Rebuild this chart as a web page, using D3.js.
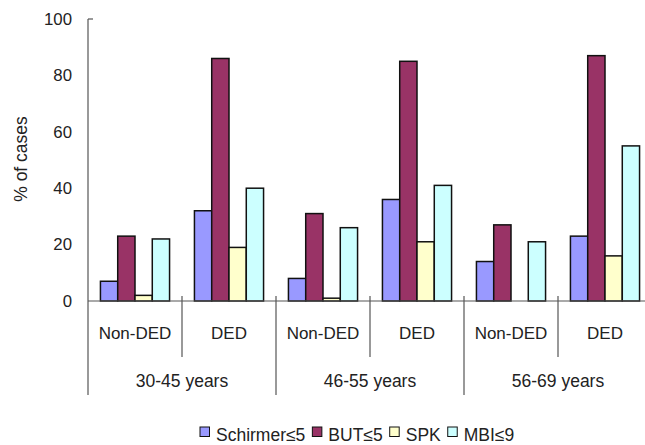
<!DOCTYPE html>
<html>
<head>
<meta charset="utf-8">
<script src="https://cdn.jsdelivr.net/npm/d3@7"></script>
<style>
  html, body { margin: 0; padding: 0; background: #fff; }
  svg { display: block; font-family: "Liberation Sans", Arial, sans-serif; }
</style>
</head>
<body>
<svg id="chart" width="645" height="445"></svg>
<script>
// Age groups, diagnosis subgroups and the four measured signs
const ageGroups = ["30-45 years", "46-55 years", "56-69 years"];
const subgroups = ["Non-DED", "DED"];
const series = ["Schirmer≤5", "BUT≤5", "SPK", "MBI≤9"];
const seriesColors = ["#9999ff", "#993366", "#ffffcc", "#ccffff"];

// % of cases per series, in order: 30-45 Non-DED, 30-45 DED, 46-55 Non-DED, 46-55 DED, 56-69 Non-DED, 56-69 DED
const schirmer = [7, 32, 8, 36, 14, 23];
const but = [23, 86, 31, 85, 27, 87];
const spk = [2, 19, 1, 21, 0, 16];
const mbi = [22, 40, 26, 41, 21, 55];

const yTicks = [0, 20, 40, 60, 80, 100];

const seriesValues = [schirmer, but, spk, mbi];
const cells = [];
ageGroups.forEach((age, ai) => {
  subgroups.forEach((sub, si) => {
    cells.push({ key: age + "|" + sub, age, sub, idx: ai * 2 + si });
  });
});

const svg = d3.select("#chart");
const plotLeft = 88, plotRight = 652, plotTop = 19, plotBase = 301;

const x0 = d3.scaleBand().domain(cells.map(c => c.key)).range([plotLeft, plotRight]).padding(0);
const x1 = d3.scaleBand().domain(series).range([0, x0.bandwidth()]).paddingInner(0).paddingOuter(0.72);
const xAge = d3.scaleBand().domain(ageGroups).range([plotLeft, plotRight]).padding(0);
const y = d3.scaleLinear().domain([0, 100]).range([plotBase, plotTop]);

const axisColor = "#555";

// Bars
const g = svg.append("g");
cells.forEach(c => {
  series.forEach((s, k) => {
    const v = seriesValues[k][c.idx];
    g.append("rect")
      .attr("x", x0(c.key) + x1(s))
      .attr("y", y(v))
      .attr("width", x1.bandwidth())
      .attr("height", y(0) - y(v))
      .attr("fill", seriesColors[k])
      .attr("stroke", "#111")
      .attr("stroke-width", 1.5);
  });
});

// Y axis
const yAxis = d3.axisLeft(y).tickValues(yTicks).tickSize(0).tickPadding(16);
const ya = svg.append("g").attr("transform", `translate(${plotLeft},0)`).call(yAxis);
ya.select(".domain").remove();
ya.selectAll("text").attr("font-size", 16.8).attr("fill", "#222")
  .attr("font-family", "Liberation Sans, Arial, sans-serif");
svg.append("line").attr("x1", plotLeft).attr("x2", plotLeft).attr("y1", plotTop).attr("y2", 395)
  .attr("stroke", axisColor).attr("stroke-width", 1.2);
svg.append("line").attr("x1", plotLeft).attr("x2", plotLeft + 5).attr("y1", plotTop).attr("y2", plotTop)
  .attr("stroke", axisColor).attr("stroke-width", 1.2);

// Baseline
svg.append("line").attr("x1", plotLeft).attr("x2", 645).attr("y1", plotBase).attr("y2", plotBase)
  .attr("stroke", axisColor).attr("stroke-width", 1.2);

// Category dividers: short between subgroups, long between age groups
cells.forEach(c => {
  const xr = x0(c.key) + x0.bandwidth();
  const isAgeEnd = c.sub === "DED";
  svg.append("line")
    .attr("x1", xr).attr("x2", xr)
    .attr("y1", plotBase - 5).attr("y2", isAgeEnd ? 395 : 357)
    .attr("stroke", axisColor).attr("stroke-width", 1.2);
});

// Subgroup labels
svg.append("g").selectAll("text").data(cells).join("text")
  .attr("x", c => x0(c.key) + x0.bandwidth() / 2)
  .attr("y", 339)
  .attr("text-anchor", "middle")
  .attr("font-size", 17)
  .attr("fill", "#222")
  .text(c => c.sub);

// Age group labels
svg.append("g").selectAll("text").data(ageGroups).join("text")
  .attr("x", a => xAge(a) + xAge.bandwidth() / 2)
  .attr("y", 387)
  .attr("text-anchor", "middle")
  .attr("font-size", 17.5)
  .attr("fill", "#222")
  .text(a => a);

// Y axis title
svg.append("text")
  .attr("transform", "translate(27,159) rotate(-90)")
  .attr("text-anchor", "middle")
  .attr("font-size", 17.5)
  .attr("fill", "#222")
  .text("% of cases");

// Legend
const legend = svg.append("g").attr("transform", "translate(200,441)");
let lx = 0;
series.forEach((s, k) => {
  const item = legend.append("g").attr("transform", `translate(${lx},0)`);
  item.append("rect").attr("x", 0).attr("y", -14).attr("width", 9.5).attr("height", 9.5)
    .attr("fill", seriesColors[k]).attr("stroke", "#111").attr("stroke-width", 1);
  const t = item.append("text").attr("x", 16).attr("y", 0).attr("font-size", 17.5)
    .attr("fill", "#222").text(s);
  lx += 16 + t.node().getComputedTextLength() + 7;
});
</script>
</body>
</html>
